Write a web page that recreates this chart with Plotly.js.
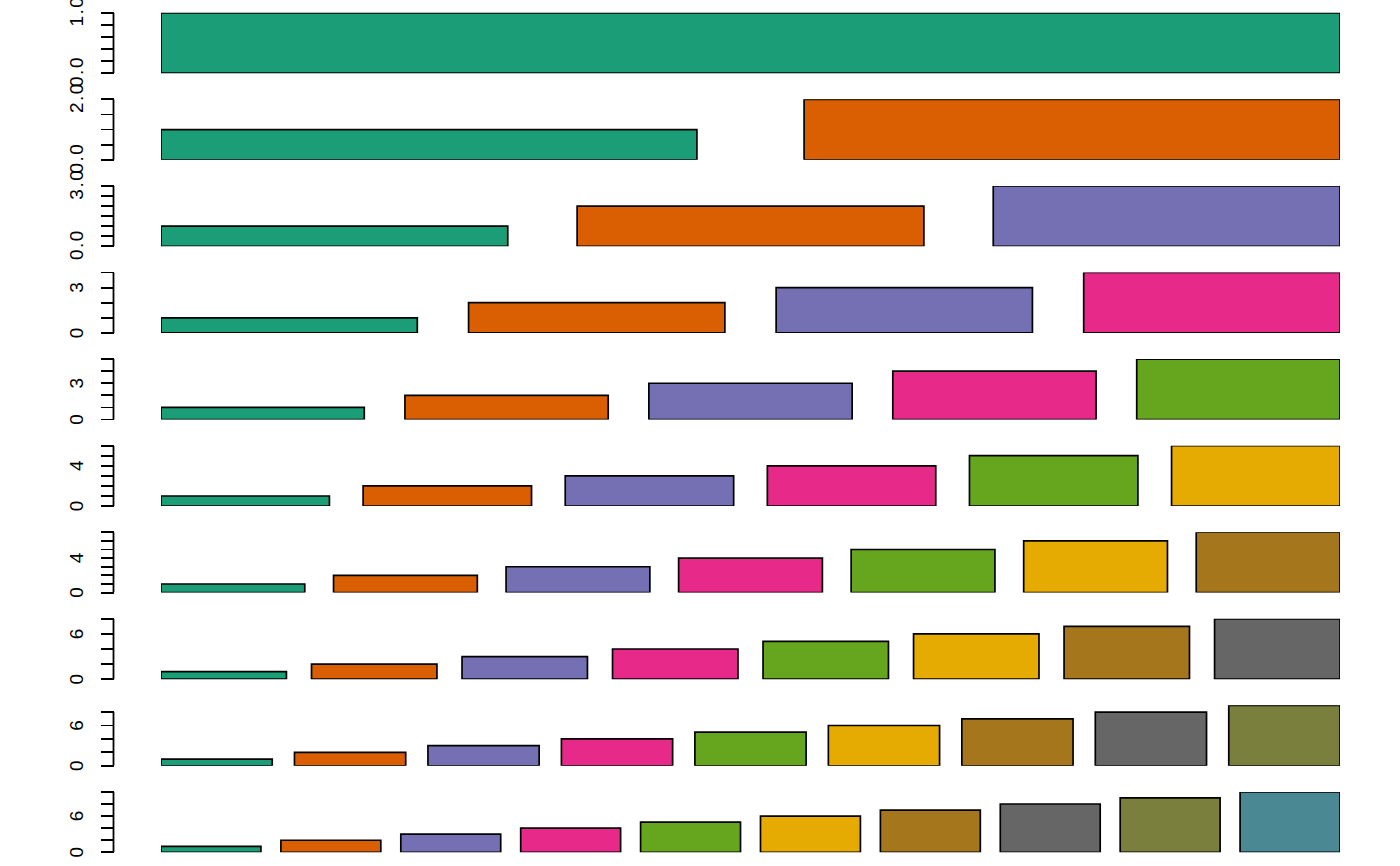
<!DOCTYPE html>
<html>
<head>
<meta charset="utf-8">
<script src="https://cdn.plot.ly/plotly-3.0.1.min.js"></script>
<style>
html,body{margin:0;padding:0;background:#fff}
#chart{width:1400px;height:866px}
#chart .annotation-text{letter-spacing:1.5px}
</style>
</head>
<body>
<div id="chart"></div>
<script>
// ---- data ----
const panel1 = [1];
const panel2 = [1, 2];
const panel3 = [1, 2, 3];
const panel4 = [1, 2, 3, 4];
const panel5 = [1, 2, 3, 4, 5];
const panel6 = [1, 2, 3, 4, 5, 6];
const panel7 = [1, 2, 3, 4, 5, 6, 7];
const panel8 = [1, 2, 3, 4, 5, 6, 7, 8];
const panel9 = [1, 2, 3, 4, 5, 6, 7, 8, 9];
const panel10 = [1, 2, 3, 4, 5, 6, 7, 8, 9, 10];
const panels = [panel1, panel2, panel3, panel4, panel5, panel6, panel7, panel8, panel9, panel10];

const barColors = ["#1B9E77", "#D95F02", "#7570B3", "#E7298A", "#66A61E",
                   "#E6AB02", "#A6761D", "#666666", "#7A7F3D", "#4A8894"];

const tickVals = [
  [0, 0.2, 0.4, 0.6, 0.8, 1.0],
  [0, 0.5, 1, 1.5, 2],
  [0, 0.5, 1, 1.5, 2, 2.5, 3],
  [0, 1, 2, 3, 4],
  [0, 1, 2, 3, 4, 5],
  [0, 1, 2, 3, 4, 5, 6],
  [0, 1, 2, 3, 4, 5, 6, 7],
  [0, 2, 4, 6, 8],
  [0, 2, 4, 6, 8],
  [0, 2, 4, 6, 8, 10]
];
const tickText = [
  ["0.0", "", "", "", "", "1.0"],
  ["0.0", "", "", "", "2.0"],
  ["0.0", "", "", "", "", "", "3.0"],
  ["0", "", "", "3", ""],
  ["0", "", "", "3", "", ""],
  ["0", "", "", "", "4", "", ""],
  ["0", "", "", "", "4", "", "", ""],
  ["0", "", "", "6", ""],
  ["0", "", "", "6", ""],
  ["0", "", "", "6", "", ""]
];

// ---- layout geometry ----
const W = 1400, H = 866;
const plotLeft = 161, plotRight = 1340, axisX = 113.5, labelX = 76.5;
const firstTop = 12.8, pitch = 86.57, panelH = 60.4;

const traces = [];
const layout = {
  width: W, height: H,
  margin: {l: 0, r: 0, t: 0, b: 0},
  paper_bgcolor: "#ffffff", plot_bgcolor: "#ffffff",
  showlegend: false,
  bargap: 1/6,
  font: {family: "Liberation Sans, Arial, Helvetica, sans-serif", size: 19, color: "#000"},
  shapes: [],
  annotations: []
};

panels.forEach((vals, i) => {
  const n = vals.length;
  const idx = i === 0 ? "" : String(i + 1);
  const xa = "x" + idx, ya = "y" + idx;
  traces.push({
    type: "bar",
    x: vals.map((v, k) => k + 1),
    y: vals,
    xaxis: xa, yaxis: ya,
    marker: {color: barColors.slice(0, n), line: {color: "#000", width: 1.7}},
    hoverinfo: "none"
  });
  const top = firstTop + pitch * i;
  const bottom = top + panelH;
  layout["xaxis" + idx] = {
    domain: [plotLeft / W, plotRight / W],
    range: [1 - 5/12, n + 5/12],
    anchor: ya,
    visible: false, fixedrange: true
  };
  layout["yaxis" + idx] = {
    domain: [1 - bottom / H, 1 - top / H],
    range: [0, n],
    anchor: "free",
    position: axisX / W,
    showgrid: false, zeroline: false, showline: false,
    ticks: "outside", ticklen: 12.5, tickwidth: 1.8, tickcolor: "#000",
    tickmode: "array", tickvals: tickVals[i],
    showticklabels: false,
    fixedrange: true
  };
  const tv = tickVals[i];
  layout.shapes.push({
    type: "line", xref: "paper", yref: ya,
    x0: axisX / W, x1: axisX / W, y0: tv[0], y1: tv[tv.length - 1],
    line: {color: "#000", width: 1.8}
  });
  tv.forEach((t, k) => {
    if (tickText[i][k] === "") return;
    layout.annotations.push({
      xref: "paper", yref: ya, x: labelX / W, y: t,
      text: tickText[i][k], textangle: -90, showarrow: false,
      xanchor: "center", yanchor: "middle", yshift: 1,
      font: {size: 19, color: "#000"}
    });
  });
});

Plotly.newPlot("chart", traces, layout, {displayModeBar: false, staticPlot: true});
</script>
</body>
</html>
